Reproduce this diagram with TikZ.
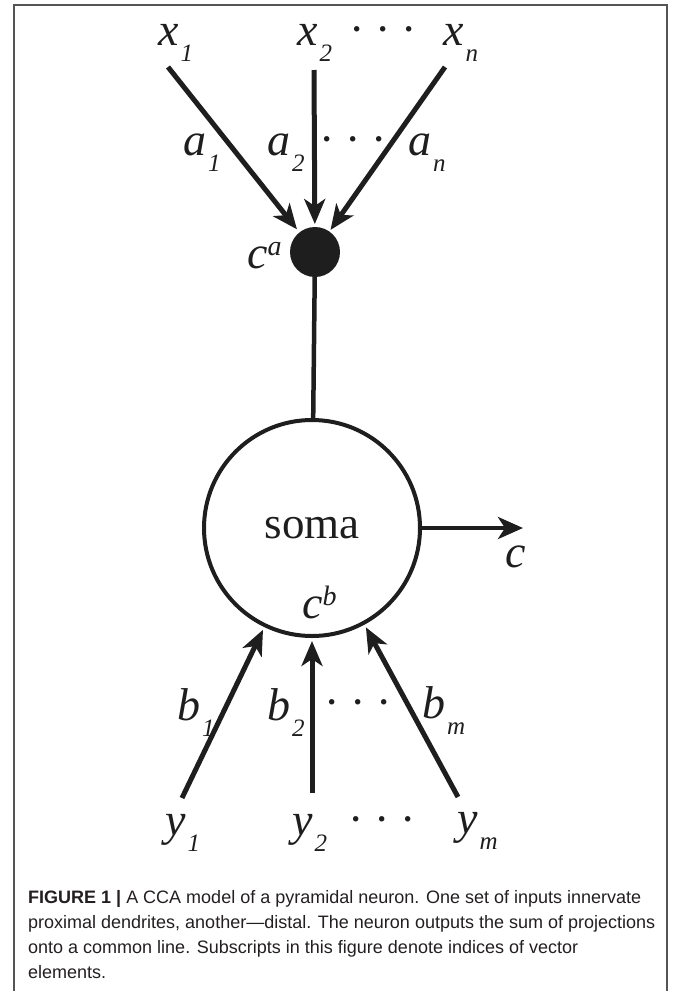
\documentclass[tikz,border=0pt]{standalone}
\usepackage{fontspec}
\setmainfont{Liberation Serif}
\setsansfont{Liberation Sans}
\usepackage{tikz}
\usetikzlibrary{
  arrows.meta,
  positioning
}
\definecolor{framegray}{RGB}{85,85,85}
\definecolor{inkblack}{RGB}{30,30,30}
\definecolor{captionink}{RGB}{35,31,32}
\newcommand{\idx}[2]{\itshape #1\kern2pt\raisebox{-16pt}{\fontsize{25}{25}\selectfont #2}}
\newcommand{\sups}[2]{\itshape #1\kern0pt\raisebox{13pt}{\fontsize{28}{28}\selectfont #2}}

\begin{document}
\begin{tikzpicture}[x=1pt, y=-1pt,
  lbl/.style={anchor=base west, inner sep=0pt, text=inkblack, font=\fontsize{46}{46}\selectfont},
  dotrow/.style={anchor=base, inner sep=0pt, text=inkblack, font=\fontsize{46}{46}\selectfont},
  dendrite/.style={draw=inkblack, line width=5pt, -{Stealth[length=25pt, width=21pt, inset=7pt]}},
  axon/.style={draw=inkblack, line width=4.5pt}]
  \useasboundingbox (0,0) rectangle (674,991);
  \draw[framegray, line width=1.8pt] (14,991) -- (14,5) -- (667,5) -- (667,991);

  % cell body and proximal point
  \node[circle, draw=inkblack, line width=4pt, minimum size=216pt, inner sep=0pt, outer sep=0pt,
        font=\fontsize{45}{45}\selectfont, text=inkblack] (soma) at (312,528) {soma};
  \node[circle, fill=inkblack, minimum size=50pt, inner sep=0pt, outer sep=0pt] (prox) at (315,252) {};
  \node[lbl] (ca) at (247,268) {\sups{c}{a}};
  \node[lbl] (cb) at (302,618) {\sups{c}{b}};

  % inputs x
  \node[lbl] (x1) at (158,45) {\idx{x}{1}};
  \node[lbl] (x2) at (297,45) {\idx{x}{2}};
  \node[lbl] (xn) at (443,45) {\idx{x}{n}};
  \node[dotrow] (xdots) at (383,44) {·\hspace{11pt}·\hspace{11pt}·};
  \coordinate (x1s) at (168,67);
  \coordinate (x2s) at (314,70);
  \coordinate (xns) at (445,67);
  \draw[dendrite, shorten >=4pt] (x1s) -- (prox);
  \draw[dendrite, shorten >=3pt] (x2s) -- (prox);
  \draw[dendrite, shorten >=2pt] (xns) -- (prox);
  \node[lbl] (a1) at (183,155) {\idx{a}{1}};
  \node[lbl] (a2) at (267,155) {\idx{a}{2}};
  \node[lbl] (an) at (408,155) {\idx{a}{n}};
  \node[dotrow] (adots) at (353,154) {·\hspace{11pt}·\hspace{11pt}·};

  % inputs y
  \node[lbl] (y1) at (165,835) {\idx{y}{1}};
  \node[lbl] (y2) at (292,835) {\idx{y}{2}};
  \node[lbl] (ym) at (457,833) {\idx{y}{m}};
  \node[dotrow] (ydots) at (382,834) {·\hspace{11pt}·\hspace{11pt}·};
  \coordinate (y1s) at (182,798);
  \coordinate (y2s) at (312,793);
  \coordinate (yms) at (458,797);
  \draw[dendrite, shorten >=5pt] (y1s) -- (soma);
  \draw[dendrite, shorten >=5pt] (y2s) -- (soma);
  \draw[dendrite, shorten >=5pt] (yms) -- (soma);
  \node[lbl] (b1) at (177,720) {\idx{b}{1}};
  \node[lbl] (b2) at (267,720) {\idx{b}{2}};
  \node[lbl] (bm) at (422,718) {\idx{b}{m}};
  \node[dotrow] (bdots) at (358,717) {·\hspace{11pt}·\hspace{11pt}·};

  % dendrite to soma, output
  \draw[axon] (prox) -- (soma);
  \coordinate (cend) at (523,528);
  \draw[axon, -{Stealth[length=25pt, width=22pt, inset=7pt]}] (soma) -- (cend);
  \node[lbl] (cout) at (505,567) {\itshape c};

  % caption
  \node[anchor=north west, inner sep=0pt, align=left, text=captionink,
        font=\sffamily\fontsize{18}{25}\selectfont] (caption) at (28,890)
    {\textbf{FIGURE 1 |} A CCA model of a pyramidal neuron. One set of inputs innervate\\
     proximal dendrites, another—distal. The neuron outputs the sum of projections\\
     onto a common line. Subscripts in this figure denote indices of vector\\
     elements.};
\end{tikzpicture}
\end{document}
